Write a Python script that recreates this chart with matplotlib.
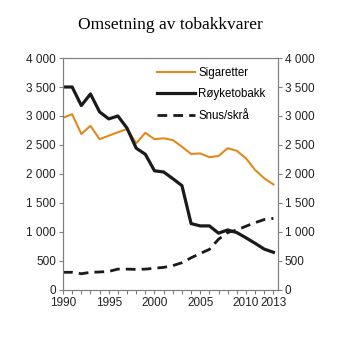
import matplotlib
matplotlib.use("Agg")
import matplotlib.pyplot as plt
from matplotlib.ticker import FuncFormatter

years = list(range(1990, 2014))
sigaretter = [2970, 3030, 2690, 2830, 2600, 2660, 2720, 2775, 2530, 2710, 2600, 2615,
              2585, 2470, 2345, 2355, 2290, 2310, 2445, 2400, 2270, 2070, 1925, 1820]
royketobakk = [3500, 3500, 3180, 3380, 3070, 2950, 3000, 2790, 2445, 2340, 2055, 2035,
               1920, 1800, 1145, 1105, 1105, 980, 1035, 990, 900, 805, 705, 650]
snus = [305, 305, 280, 305, 310, 320, 360, 360, 355, 360, 375, 390,
        420, 470, 555, 630, 700, 875, 990, 1035, 1100, 1160, 1215, 1235]
xticks = [1990, 1995, 2000, 2005, 2010, 2013]
yticks = [0, 500, 1000, 1500, 2000, 2500, 3000, 3500, 4000]

plt.rcParams["font.family"] = ["Liberation Sans", "DejaVu Sans"]

fig = plt.figure(figsize=(3.41, 3.41), dpi=100)
ax = fig.add_axes([0.1848, 0.1496, 0.6304, 0.6803])

ax.plot(years, sigaretter, color="#e08a1e", lw=1.5, label="Sigaretter")
ax.plot(years, royketobakk, color="#1a1a1a", lw=2.3, label="Røyketobakk")
ax.plot(years, snus, color="#1a1a1a", lw=2.0, ls=(0, (3.5, 2.2)), label="Snus/skrå")

ax.set_xlim(1990, 2013.5)
ax.set_ylim(0, 4000)
ax.set_xticks(xticks)
ax.set_xticks(years, minor=True)
ax.set_yticks(yticks)
fmt = FuncFormatter(lambda v, p: f"{int(v):,}".replace(",", " "))
ax.yaxis.set_major_formatter(fmt)

ax2 = ax.twinx()
ax2.set_ylim(0, 4000)
ax2.set_yticks(yticks)
ax2.yaxis.set_major_formatter(fmt)

for a in (ax, ax2):
    for s in a.spines.values():
        s.set_color("#808080")
        s.set_linewidth(0.8)
    a.tick_params(axis="both", which="both", colors="#808080", labelcolor="#222222",
                  labelsize=8.5, length=3, width=0.8, pad=2)
ax.tick_params(axis="x", which="minor", length=3)

ax.legend(loc="upper right", bbox_to_anchor=(0.99, 1.005), frameon=False, fontsize=8.3,
          handlelength=3.3, handletextpad=0.3, labelspacing=0.8)

fig.suptitle("Omsetning av tobakkvarer", x=0.5, y=0.95, fontsize=12.5,
             family=["Liberation Serif", "DejaVu Serif"])

fig.savefig("out.png", dpi=100)
